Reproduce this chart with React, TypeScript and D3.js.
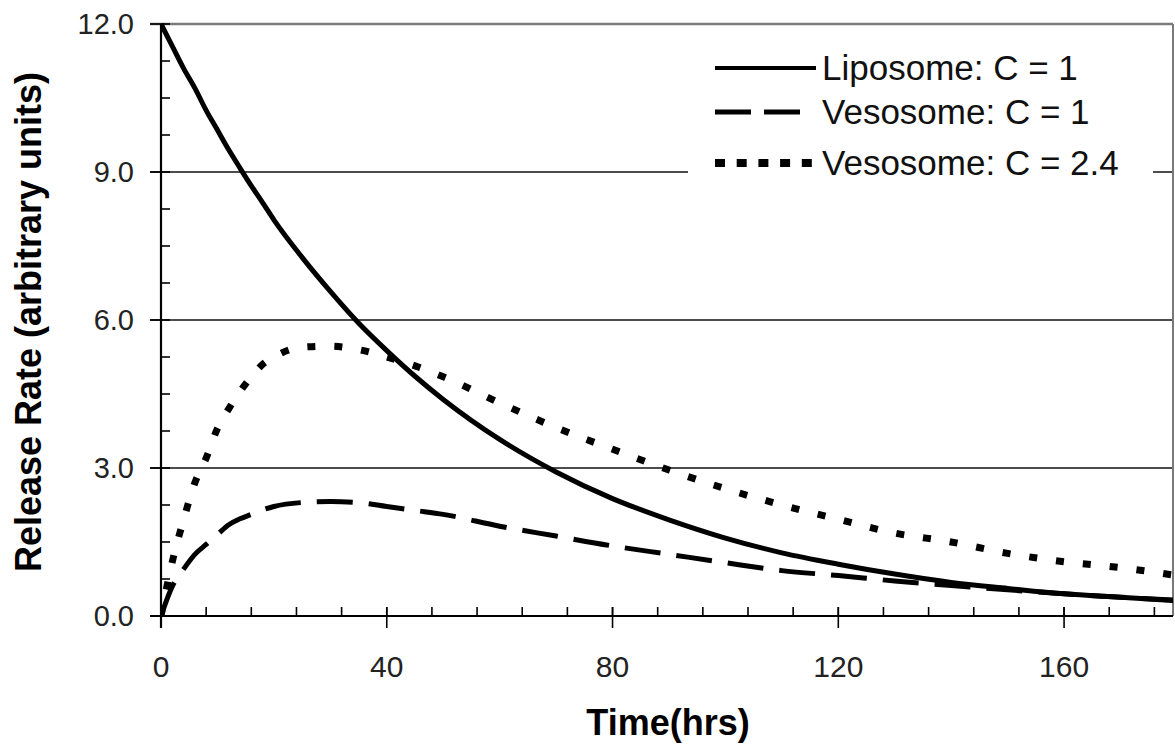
import React from "react";
import * as d3 from "d3";

// data
const times = [0, 2, 4, 6, 8, 10, 12, 14, 16, 18, 20, 25, 30, 35, 40, 45, 50, 60, 70, 80, 90, 100, 110, 120, 130, 140, 150, 160, 170, 180];
const liposome = [12.0, 11.55, 11.1, 10.7, 10.25, 9.85, 9.45, 9.08, 8.72, 8.38, 8.03, 7.27, 6.58, 5.94, 5.38, 4.86, 4.39, 3.58, 2.92, 2.38, 1.95, 1.58, 1.28, 1.05, 0.85, 0.68, 0.56, 0.45, 0.38, 0.31];
const vesosome1 = [0, 0.6, 0.95, 1.25, 1.45, 1.65, 1.85, 1.97, 2.06, 2.15, 2.22, 2.3, 2.32, 2.3, 2.22, 2.14, 2.06, 1.82, 1.62, 1.42, 1.25, 1.08, 0.92, 0.82, 0.71, 0.62, 0.53, 0.45, 0.38, 0.32];
const vesosome24 = [0, 1.1, 1.95, 2.7, 3.2, 3.8, 4.2, 4.55, 4.85, 5.1, 5.25, 5.45, 5.47, 5.4, 5.25, 5.07, 4.85, 4.32, 3.82, 3.38, 2.96, 2.58, 2.25, 1.96, 1.68, 1.5, 1.27, 1.1, 0.98, 0.82];
const seriesNames = ["Liposome: C = 1", "Vesosome: C = 1", "Vesosome: C = 2.4"];
const xTicks = [0, 40, 80, 120, 160];
const yTicks = [0, 3, 6, 9, 12];

const W = 1175, H = 745;
const left = 161, right = 1173, top = 24, bottom = 616;
const xMaxShown = 179.3;

export default function App() {
  const x = d3.scaleLinear().domain([0, xMaxShown]).range([left, right]);
  const y = d3.scaleLinear().domain([0, 12]).range([bottom, top]);

  const line = d3.line<number>()
    .x((d, i) => x(times[i]))
    .y(d => y(d))
    .curve(d3.curveMonotoneX);

  const styles = [
    { dash: "none", width: 5, legendDash: "none", legendWidth: 4, legendEnd: 816 },
    { dash: "36,16", width: 5, legendDash: "36,13", legendWidth: 5, legendEnd: 800 },
    { dash: "8,19", width: 7, legendDash: "10,11.7", legendWidth: 8, legendEnd: 812 },
  ];
  const allSeries = [liposome, vesosome1, vesosome24];

  const minorX = d3.range(0, xMaxShown, 8);
  const minorY = d3.range(0, 12.01, 0.75);

  const font = "Liberation Sans, Arial, sans-serif";
  const legendRows = [80, 124, 175];

  return (
    <svg width={W} height={H} style={{ position: "absolute", left: 0, top: 0, background: "#fff" }}>
      <defs>
        <clipPath id="plotClip">
          <rect x={left} y={top - 10} width={right - left} height={bottom - top + 20} />
        </clipPath>
      </defs>
      <rect x={0} y={0} width={W} height={H} fill="#fff" />

      {/* grid lines */}
      {yTicks.filter(t => t > 0 && t < 12).map(t => (
        <line key={"g" + t} x1={left - 11} x2={right} y1={y(t)} y2={y(t)} stroke="#111" strokeWidth={1.6} />
      ))}
      <line x1={left - 11} x2={right} y1={y(12)} y2={y(12)} stroke="#7a7a7a" strokeWidth={2.5} />
      <line x1={right} x2={right} y1={y(12)} y2={y(0)} stroke="#7a7a7a" strokeWidth={2} />

      {/* legend box */}
      <rect x={688} y={40} width={465} height={150} fill="#fff" />

      {/* axes */}
      <line x1={left} x2={left} y1={y(12)} y2={y(0) + 12} stroke="#000" strokeWidth={2.2} />
      <line x1={left - 11} x2={right} y1={y(0)} y2={y(0)} stroke="#000" strokeWidth={2.2} />
      {minorY.map(t => (
        <line key={"my" + t} x1={left} x2={left + 9} y1={y(t)} y2={y(t)} stroke="#000" strokeWidth={1.6} />
      ))}
      {yTicks.map(t => (
        <line key={"ty" + t} x1={left - 11} x2={left} y1={y(t)} y2={y(t)} stroke="#000" strokeWidth={1.6} />
      ))}
      {minorX.map(t => (
        <line key={"mx" + t} x1={x(t)} x2={x(t)} y1={y(0) - 9} y2={y(0)} stroke="#000" strokeWidth={1.6} />
      ))}
      {xTicks.map(t => (
        <line key={"tx" + t} x1={x(t)} x2={x(t)} y1={y(0) - 9} y2={y(0) + 12} stroke="#000" strokeWidth={1.6} />
      ))}

      {/* tick labels */}
      {yTicks.map(t => (
        <text key={"ly" + t} x={134} y={y(t)} dy="0.36em" textAnchor="end" fontFamily={font} fontSize={29} fill="#222">
          {t.toFixed(1)}
        </text>
      ))}
      {xTicks.map(t => (
        <text key={"lx" + t} x={x(t)} y={677} textAnchor="middle" fontFamily={font} fontSize={30} fill="#222">
          {t}
        </text>
      ))}

      {/* axis titles */}
      <text x={668} y={735} textAnchor="middle" fontFamily={font} fontSize={36} fontWeight="bold" fill="#000">Time(hrs)</text>
      <text transform={`translate(41,${(top + bottom) / 2 + 2}) rotate(-90)`} textAnchor="middle" fontFamily={font} fontSize={36} fontWeight="bold" fill="#000">
        Release Rate (arbitrary units)
      </text>

      {/* curves */}
      <g clipPath="url(#plotClip)">
        {allSeries.map((s, i) => (
          <path key={"s" + i} d={line(s) || ""} fill="none" stroke="#000" strokeWidth={styles[i].width}
            strokeDasharray={styles[i].dash} />
        ))}
      </g>

      {/* legend */}
      {seriesNames.map((n, i) => (
        <g key={"lg" + i}>
          <line x1={715} x2={styles[i].legendEnd} y1={legendRows[i] - 12} y2={legendRows[i] - 12} stroke="#000"
            strokeWidth={styles[i].legendWidth} strokeDasharray={styles[i].legendDash} />
          <text x={822} y={legendRows[i]} fontFamily={font} fontSize={35} fill="#111">{n}</text>
        </g>
      ))}
    </svg>
  );
}
